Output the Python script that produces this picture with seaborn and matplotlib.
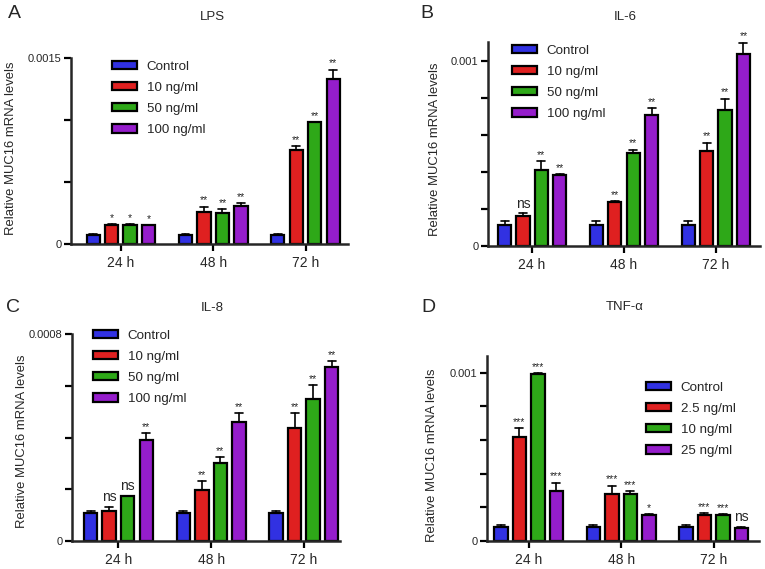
import numpy as np
import pandas as pd
import matplotlib
matplotlib.use("Agg")
import matplotlib.pyplot as plt
import seaborn as sns

# Data
times = ["24 h", "48 h", "72 h"]
colors = ["#1414ff", "#ff0000", "#1ec000", "#a000e8"]

lps_groups = ["Control", "10 ng/ml", "50 ng/ml", "100 ng/ml"]
lps_mean = [[0.000075, 0.000075, 0.000075],
            [0.00015, 0.000262, 0.000758],
            [0.000155, 0.000252, 0.00098],
            [0.00015, 0.00031, 0.001334]]
lps_err = [[0.000005, 0.000005, 0.000005],
           [0.000008, 0.00004, 0.000032],
           [0.000005, 0.000027, 0.000005],
           [0.000005, 0.00002, 0.000072]]
lps_sig = [["", "", ""], ["*", "**", "**"], ["*", "**", "**"], ["*", "**", "**"]]

il6_groups = ["Control", "10 ng/ml", "50 ng/ml", "100 ng/ml"]
il6_mean = [[0.000113, 0.000113, 0.000113],
            [0.000163, 0.000235, 0.000512],
            [0.000409, 0.000504, 0.000731],
            [0.000382, 0.000709, 0.001036]]
il6_err = [[0.000021, 0.000021, 0.000021],
           [0.000013, 0.000007, 0.000045],
           [0.000048, 0.000016, 0.000063],
           [0.000004, 0.000036, 0.000061]]
il6_sig = [["", "", ""], ["ns", "**", "**"], ["**", "**", "**"], ["**", "**", "**"]]

il8_groups = ["Control", "10 ng/ml", "50 ng/ml", "100 ng/ml"]
il8_mean = [[0.000107, 0.000107, 0.000107],
            [0.000116, 0.000199, 0.000437],
            [0.000172, 0.0003, 0.00055],
            [0.000389, 0.00046, 0.000672]]
il8_err = [[0.000009, 0.000009, 0.000009],
           [0.000017, 0.000031, 0.000057],
           [0.000003, 0.000023, 0.000053],
           [0.000027, 0.000035, 0.000022]]
il8_sig = [["", "", ""], ["ns", "**", "**"], ["ns", "**", "**"], ["**", "**", "**"]]

tnf_groups = ["Control", "2.5 ng/ml", "10 ng/ml", "25 ng/ml"]
tnf_mean = [[0.000081, 0.000081, 0.000081],
            [0.00062, 0.000279, 0.000154],
            [0.000992, 0.000277, 0.000152],
            [0.000297, 0.000152, 0.000075]]
tnf_err = [[0.000012, 0.000012, 0.000012],
           [0.000051, 0.00005, 0.000014],
           [0.000004, 0.00002, 0.000008],
           [0.00005, 0.000008, 0.00001]]
tnf_sig = [["", "", ""], ["***", "***", "***"], ["***", "***", "***"], ["***", "*", "ns"]]

sns.set_style("ticks")
plt.rcParams['font.family'] = ['Liberation Sans', 'DejaVu Sans']

W, H = 765, 569
fig = plt.figure(figsize=(W / 100, H / 100), dpi=100)


def px_box(left, right, top, bottom):
    return [left / W, 1 - bottom / H, (right - left) / W, (bottom - top) / H]


def panel(box, groups, means, errs, sigs, title, letter, title_xy, letter_xy,
          xlim, ymax, yticks, toplabel, leg_xy, ylab_xy):
    ax = fig.add_axes(px_box(*box))
    rows = []
    for g, m_row in zip(groups, means):
        for t, m in zip(times, m_row):
            rows.append({"time": t, "group": g, "value": m})
    df = pd.DataFrame(rows)
    sns.barplot(data=df, x="time", y="value", hue="group", order=times,
                hue_order=groups, palette=colors, errorbar=None, gap=0.28,
                edgecolor="black", linewidth=1.6, ax=ax)
    # upper error bars + significance labels
    for cont, err_row, sig_row in zip(ax.containers, errs, sigs):
        for bar, e, s in zip(cont, err_row, sig_row):
            xc = bar.get_x() + bar.get_width() / 2
            top = bar.get_height()
            hw = bar.get_width() * 0.3
            ax.plot([xc, xc], [top, top + e], color="black", lw=1.2, clip_on=False)
            ax.plot([xc - hw, xc + hw], [top + e, top + e], color="black", lw=1.2, clip_on=False)
            if s:
                if s == "ns":
                    ax.text(xc, top + e + ymax * 0.012, s, ha="center", va="bottom",
                            fontsize=10, clip_on=False)
                else:
                    ax.text(xc, top + e + ymax * 0.006, s, ha="center", va="bottom",
                            fontsize=7.5, clip_on=False)
    ax.set_xlim(*xlim)
    ax.set_ylim(0, ymax)
    ax.set_yticks(yticks)
    ax.set_yticklabels(["0"] + [""] * (len(yticks) - 2) + [toplabel])
    ax.set_xlabel("")
    ax.set_ylabel("Relative MUC16 mRNA levels", fontsize=9.4)
    ax.yaxis.set_label_coords(ylab_xy[0] / W, 1 - ylab_xy[1] / H, transform=fig.transFigure)
    ax.tick_params(axis="both", width=1.6, length=5, color="black")
    ax.tick_params(axis="x", labelsize=10)
    ax.tick_params(axis="y", labelsize=8, pad=2)
    for sp in ["left", "bottom"]:
        ax.spines[sp].set_linewidth(1.8)
    sns.despine(ax=ax)
    handles, labels = ax.get_legend_handles_labels()
    ax.legend(handles, labels, loc="upper left", frameon=False, fontsize=9.6,
              bbox_to_anchor=(leg_xy[0] / W, 1 - leg_xy[1] / H),
              bbox_transform=fig.transFigure, borderaxespad=0, borderpad=0,
              handlelength=1.9, handleheight=0.55, handletextpad=0.7,
              labelspacing=0.68)
    fig.text(title_xy[0] / W, 1 - title_xy[1] / H, title, ha="center", va="center", fontsize=9.5)
    fig.text(letter_xy[0] / W, 1 - letter_xy[1] / H, letter, ha="center", va="center", fontsize=14)
    return ax


panel((71, 348, 58, 244), lps_groups, lps_mean, lps_err, lps_sig, "LPS", "A",
      (212, 17), (14, 14), (-0.54, 2.46), 0.0015,
      [0, 0.0005, 0.001, 0.0015], "0.0015", (112, 61), (17, 148))
panel((488, 760, 42, 246), il6_groups, il6_mean, il6_err, il6_sig, "IL-6", "B",
      (625, 17), (427, 14), (-0.48, 2.48), 0.0011,
      [0, 0.0002, 0.0004, 0.0006, 0.0008, 0.001], "0.001", (512, 45), (441, 149))
panel((72, 340, 334, 541), il8_groups, il8_mean, il8_err, il8_sig, "IL-8", "C",
      (212, 308), (13, 307), (-0.5, 2.39), 0.0008,
      [0, 0.0002, 0.0004, 0.0006, 0.0008], "0.0008", (93, 330), (28, 441))
panel((487, 759, 356, 541), tnf_groups, tnf_mean, tnf_err, tnf_sig, "TNF-α", "D",
      (625, 307), (428, 307), (-0.45, 2.49), 0.0011,
      [0, 0.0002, 0.0004, 0.0006, 0.0008, 0.001], "0.001", (646, 382), (438, 455))

fig.savefig("out.png", dpi=100)
